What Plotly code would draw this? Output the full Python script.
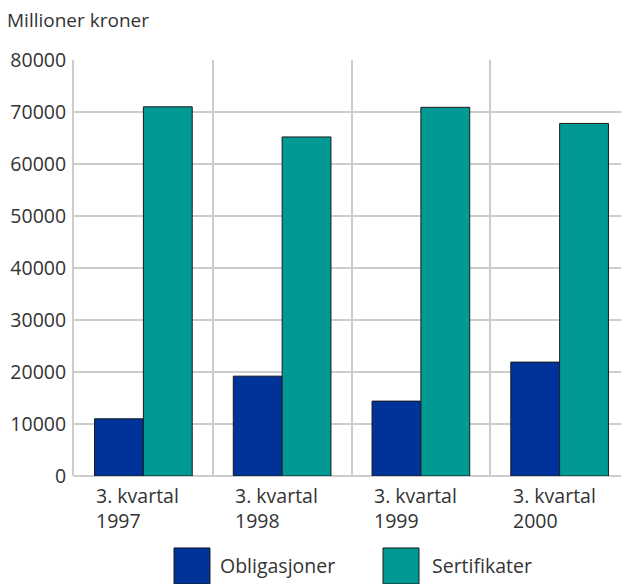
import plotly.graph_objects as go

categories = ["3. kvartal<br>1997", "3. kvartal<br>1998", "3. kvartal<br>1999", "3. kvartal<br>2000"]
obligasjoner = [11000, 19200, 14400, 21900]
sertifikater = [71000, 65200, 70900, 67800]
series_names = ["Obligasjoner", "Sertifikater"]
y_ticks = [0, 10000, 20000, 30000, 40000, 50000, 60000, 70000, 80000]

colors = ["#003399", "#009994"]
FONT = "Open Sans"
TXT = "#333333"
GRID = "#cccccc"

fig = go.Figure()
for name, vals, col in zip(series_names, [obligasjoner, sertifikater], colors):
    fig.add_trace(go.Bar(
        x=categories, y=vals, name=name, marker=dict(color=col, line=dict(color="#1a1a1a", width=1)),
        showlegend=False,
    ))

fig.update_layout(
    width=629, height=584,
    margin=dict(l=66, r=8, t=52, b=116),
    paper_bgcolor="white", plot_bgcolor="white",
    barmode="group", bargap=0.296, bargroupgap=0,
    font=dict(family=FONT, size=19, color=TXT),
)
fig.update_xaxes(
    type="category", tickson="boundaries", showgrid=True, gridcolor=GRID, gridwidth=2,
    showticklabels=False, ticks="", showline=False, zeroline=False,
)
fig.update_yaxes(
    range=[0, 80000], tickvals=y_ticks, ticktext=[str(v) for v in y_ticks],
    showgrid=True, gridcolor=GRID, gridwidth=2,
    showline=True, linecolor=GRID, linewidth=2,
    zeroline=True, zerolinecolor=GRID, zerolinewidth=2,
    ticks="", ticklen=0, ticklabelstandoff=2, tickfont=dict(size=19.5),
    automargin=False,
)

# category labels (left-aligned two-line blocks)
for c in categories:
    fig.add_annotation(x=c, xref="x", y=-0.010, yref="paper", text=c, showarrow=False,
                       xanchor="left", yanchor="top", align="left", xshift=-49,
                       font=dict(family=FONT, size=19.5, color=TXT))

# y-axis unit
fig.add_annotation(x=-0.1243, xref="paper", y=1.096, yref="paper", text="Millioner kroner",
                   showarrow=False, xanchor="left", yanchor="middle",
                   font=dict(family=FONT, size=19, color=TXT))

# legend
leg_x = [(0.1802, 0.2450), (0.5568, 0.6216)]
txt_x = [0.2594, 0.6414]
for (x0, x1), tx, name, col in zip(leg_x, txt_x, series_names, colors):
    fig.add_shape(type="rect", xref="paper", yref="paper", x0=x0, x1=x1, y0=-0.2596, y1=-0.173,
                  fillcolor=col, line=dict(color="#1a1a1a", width=1))
    fig.add_annotation(x=tx, xref="paper", y=-0.214, yref="paper", text=name, showarrow=False,
                       xanchor="left", yanchor="middle", font=dict(family=FONT, size=19.5, color=TXT))

fig.write_html("out.html")
